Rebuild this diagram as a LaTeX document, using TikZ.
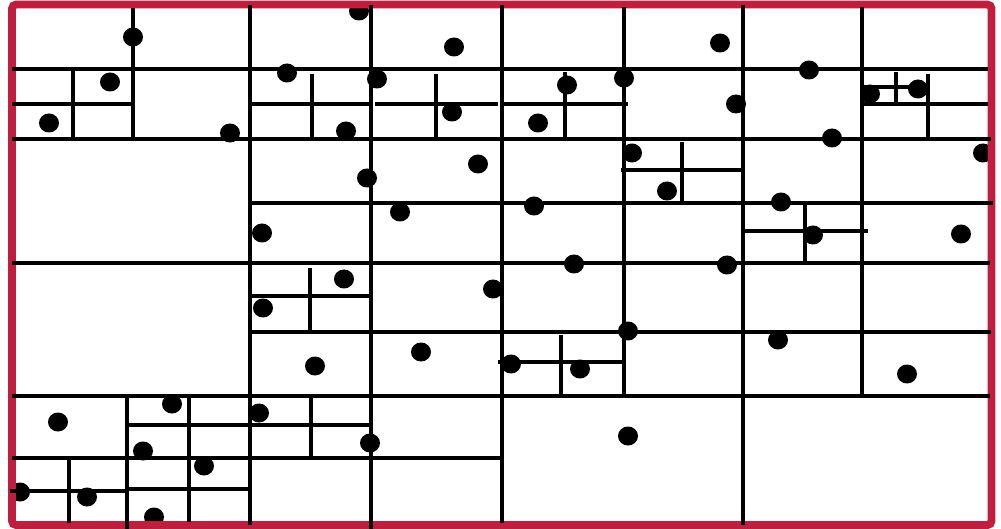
\documentclass[tikz,border=0pt]{standalone}
\usepackage{tikz}
\definecolor{frame}{RGB}{192,30,62}
\tikzset{
  gridline/.style={line width=3.9pt, black, line cap=butt},
  dotmark/.style={fill=black},
  framebox/.style={draw=frame, line width=7.8pt, rounded corners=4pt}
}
\begin{document}
\begin{tikzpicture}[x=1pt,y=-1pt]
\useasboundingbox (0,0) rectangle (1001,529);
% dots
\foreach \px/\py in {133/37,110/82,49/123,230/133,359/11,454/47,287/73,377/79,452/112,346/131,
  567/85,538/123,624/78,720/43,809/70,736/104,870/94,918/89,832/138,983/153,632/153,478/164,
  367/178,667/191,400/212,534/206,262/233,781/202,813/235,961/234,574/264,727/265,344/279,
  263/308,493/289,628/331,778/340,421/352,315/366,511/364,580/369,907/374,58/422,172/404,
  259/413,143/451,204/466,370/443,628/436,20/492,87/497,154/517}
  \fill[dotmark] (\px,\py) ellipse [x radius=10pt, y radius=9.5pt];
% red frame
\draw[framebox] (12,4.6) rectangle (991.5,525);
% horizontal lines
\foreach \ya/\xa/\xb in {69/12/988,104/12/133,104/250/370,104/375/498,104/503/628,87/864/925,
  104/864/988,139/12/991,170/621/743,203/250/993,231/745/868,263/12/990,296/250/370,
  332/250/991,362/498/622,396/12/990,425/127/373,458/12/500,491/10/127,489/127/249}
  \draw[gridline] (\xa,\ya) -- (\xb,\ya);
% vertical lines
\foreach \xa/\ya/\yb in {73/69/139,133/8/139,250/5/525,312/74/137,371/5/529,436/74/137,
  502/5/523,565/72/137,624/7/397,682/142/203,743/5/525,805/202/263,862/7/397,896/72/103,
  928/74/137,310/268/331,561/335/395,127/396/529,189/396/522,69/457/523,311/396/457}
  \draw[gridline] (\xa,\ya) -- (\xa,\yb);
\end{tikzpicture}
\end{document}
